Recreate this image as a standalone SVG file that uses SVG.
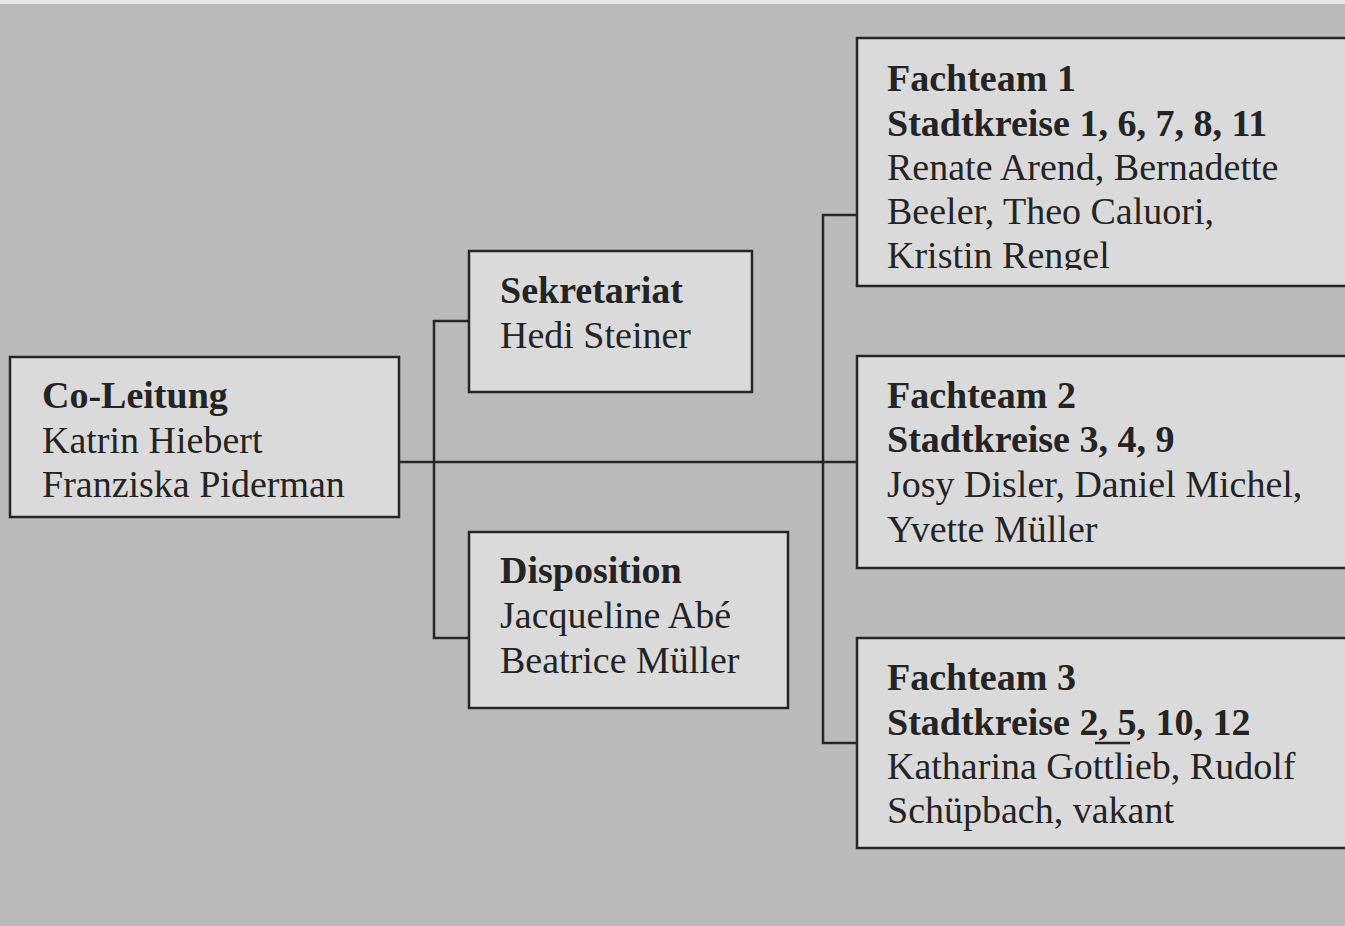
<svg xmlns="http://www.w3.org/2000/svg" width="1345" height="926" viewBox="0 0 1345 926">
<defs>
<style>
.bg{fill:#bababa}
.box{fill:#dadada;stroke:#262626;stroke-width:2.5}
.ln{fill:none;stroke:#262626;stroke-width:2.5}
text{font-family:"Liberation Serif","Times New Roman",serif;font-size:38px;fill:#242424}
.b{font-weight:bold}
</style>
<clipPath id="c1"><rect x="857" y="38" width="488" height="232"/></clipPath>
</defs>
<rect class="bg" x="0" y="0" width="1345" height="926"/>
<rect x="0" y="0" width="1345" height="4" fill="#e6e6e6"/>
<g id="connectors">
<polyline class="ln" points="399,462 823,462"/>
<polyline class="ln" points="469,321 434,321 434,638 469,638"/>
<polyline class="ln" points="857,215 823,215 823,743 857,743"/>
<polyline class="ln" points="823,462 857,462"/>
</g>
<g id="co-leitung">
<rect class="box" x="10" y="357" width="389" height="160"/>
<text x="42" y="408" class="b">Co-Leitung</text>
<text x="42" y="453">Katrin Hiebert</text>
<text x="42" y="497">Franziska Piderman</text>
</g>
<g id="sekretariat">
<rect class="box" x="469" y="251" width="283" height="141"/>
<text x="500" y="303" class="b">Sekretariat</text>
<text x="500" y="348">Hedi Steiner</text>
</g>
<g id="disposition">
<rect class="box" x="469" y="532" width="319" height="176"/>
<text x="500" y="583" class="b">Disposition</text>
<text x="500" y="628">Jacqueline Abé</text>
<text x="500" y="673">Beatrice Müller</text>
</g>
<g id="fachteam1">
<rect class="box" x="857" y="38" width="500" height="248"/>
<g clip-path="url(#c1)">
<text x="887" y="91" class="b">Fachteam 1</text>
<text x="887" y="136" class="b">Stadtkreise 1, 6, 7, 8, 11</text>
<text x="887" y="180">Renate Arend, Bernadette</text>
<text x="887" y="224">Beeler, Theo Caluori,</text>
<text x="887" y="268">Kristin Rengel</text>
</g>
</g>
<g id="fachteam2">
<rect class="box" x="857" y="356" width="500" height="212"/>
<text x="887" y="408" class="b">Fachteam 2</text>
<text x="887" y="452" class="b">Stadtkreise 3, 4, 9</text>
<text x="887" y="497">Josy Disler, Daniel Michel,</text>
<text x="887" y="542">Yvette Müller</text>
</g>
<g id="fachteam3">
<rect class="box" x="857" y="638" width="500" height="210"/>
<text x="887" y="690" class="b">Fachteam 3</text>
<text x="887" y="735" class="b">Stadtkreise 2, 5, 10, 12</text>
<line class="ln" x1="1095" y1="743" x2="1130" y2="743" stroke-width="2"/>
<text x="887" y="779">Katharina Gottlieb, Rudolf</text>
<text x="887" y="823">Schüpbach, vakant</text>
</g>
</svg>
